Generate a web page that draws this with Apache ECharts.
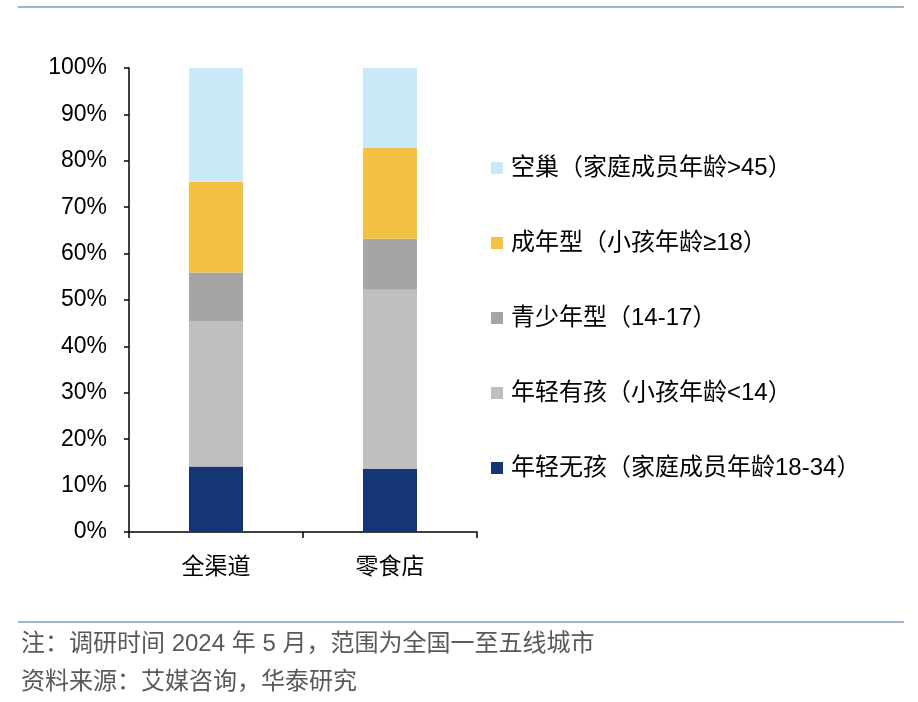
<!DOCTYPE html>
<html>
<head>
<meta charset="utf-8">
<style>
  html, body { margin: 0; padding: 0; background: #fff; }
  #main { width: 918px; height: 702px; }
</style>
<script src="https://cdn.jsdelivr.net/npm/echarts@6/dist/echarts.min.js"></script>
</head>
<body>
<div id="main"></div>
<script>
// 渠道
var categories = ['全渠道', '零食店'];
// 各家庭类型占比（%），自下而上堆叠
var youngNoKid = [14.1, 13.6];
var youngWithKid = [31.4, 38.6];
var teen = [10.4, 11.0];
var adult = [19.6, 19.6];
var emptyNest = [24.5, 17.2];

var seriesNames = [
    '年轻无孩（家庭成员年龄18-34）',
    '年轻有孩（小孩年龄<14）',
    '青少年型（14-17）',
    '成年型（小孩年龄≥18）',
    '空巢（家庭成员年龄>45）'
];
var seriesData = [youngNoKid, youngWithKid, teen, adult, emptyNest];
var colors = ['#143674', '#BFBFBF', '#A5A5A5', '#F3C242', '#C9E9F8'];

var fontAll = '"Liberation Sans", "Noto Sans CJK SC", sans-serif';

var myChart = echarts.init(document.getElementById('main'));

var series = [];
for (var i = 0; i < seriesNames.length; i++) {
    series.push({
        name: seriesNames[i],
        type: 'bar',
        stack: 'total',
        barWidth: 54,
        itemStyle: { color: colors[i] },
        data: seriesData[i]
    });
}

myChart.setOption({
    animation: false,
    textStyle: { fontFamily: fontAll },
    grid: { left: 129, right: 441, top: 68, bottom: 170 },
    legend: {
        orient: 'vertical',
        left: 486,
        top: 151,
        itemWidth: 12,
        itemHeight: 12,
        itemGap: 51,
        icon: 'rect',
        data: seriesNames.slice().reverse(),
        textStyle: { fontSize: 24, color: '#000', fontFamily: fontAll, padding: [0, 0, 0, 3] }
    },
    xAxis: {
        type: 'category',
        data: categories,
        axisLine: { lineStyle: { color: '#000', width: 1.5 } },
        axisTick: { show: true, length: 6, lineStyle: { color: '#000', width: 1.5 } },
        axisLabel: { fontSize: 23, color: '#000', margin: 24, fontFamily: fontAll }
    },
    yAxis: {
        type: 'value',
        min: 0,
        max: 100,
        interval: 10,
        axisLine: { show: true, lineStyle: { color: '#000', width: 1.5 } },
        axisTick: { show: true, length: 5, lineStyle: { color: '#000', width: 1.5 } },
        splitLine: { show: false },
        axisLabel: { formatter: '{value}%', fontSize: 23, color: '#000', margin: 22, fontFamily: fontAll }
    },
    graphic: [
        {
            type: 'line',
            shape: { x1: 18, y1: 7, x2: 904, y2: 7 },
            style: { stroke: '#9FB3CB', lineWidth: 2 }
        },
        {
            type: 'line',
            shape: { x1: 18, y1: 622, x2: 904, y2: 622 },
            style: { stroke: '#9FB3CB', lineWidth: 2 }
        },
        {
            type: 'text',
            left: 21,
            top: 632,
            style: {
                text: '注：调研时间 2024 年 5 月，范围为全国一至五线城市',
                fontSize: 24,
                fill: '#595959',
                fontFamily: fontAll
            }
        },
        {
            type: 'text',
            left: 21,
            top: 670,
            style: {
                text: '资料来源：艾媒咨询，华泰研究',
                fontSize: 24,
                fill: '#595959',
                fontFamily: fontAll
            }
        }
    ],
    series: series
});
</script>
</body>
</html>
